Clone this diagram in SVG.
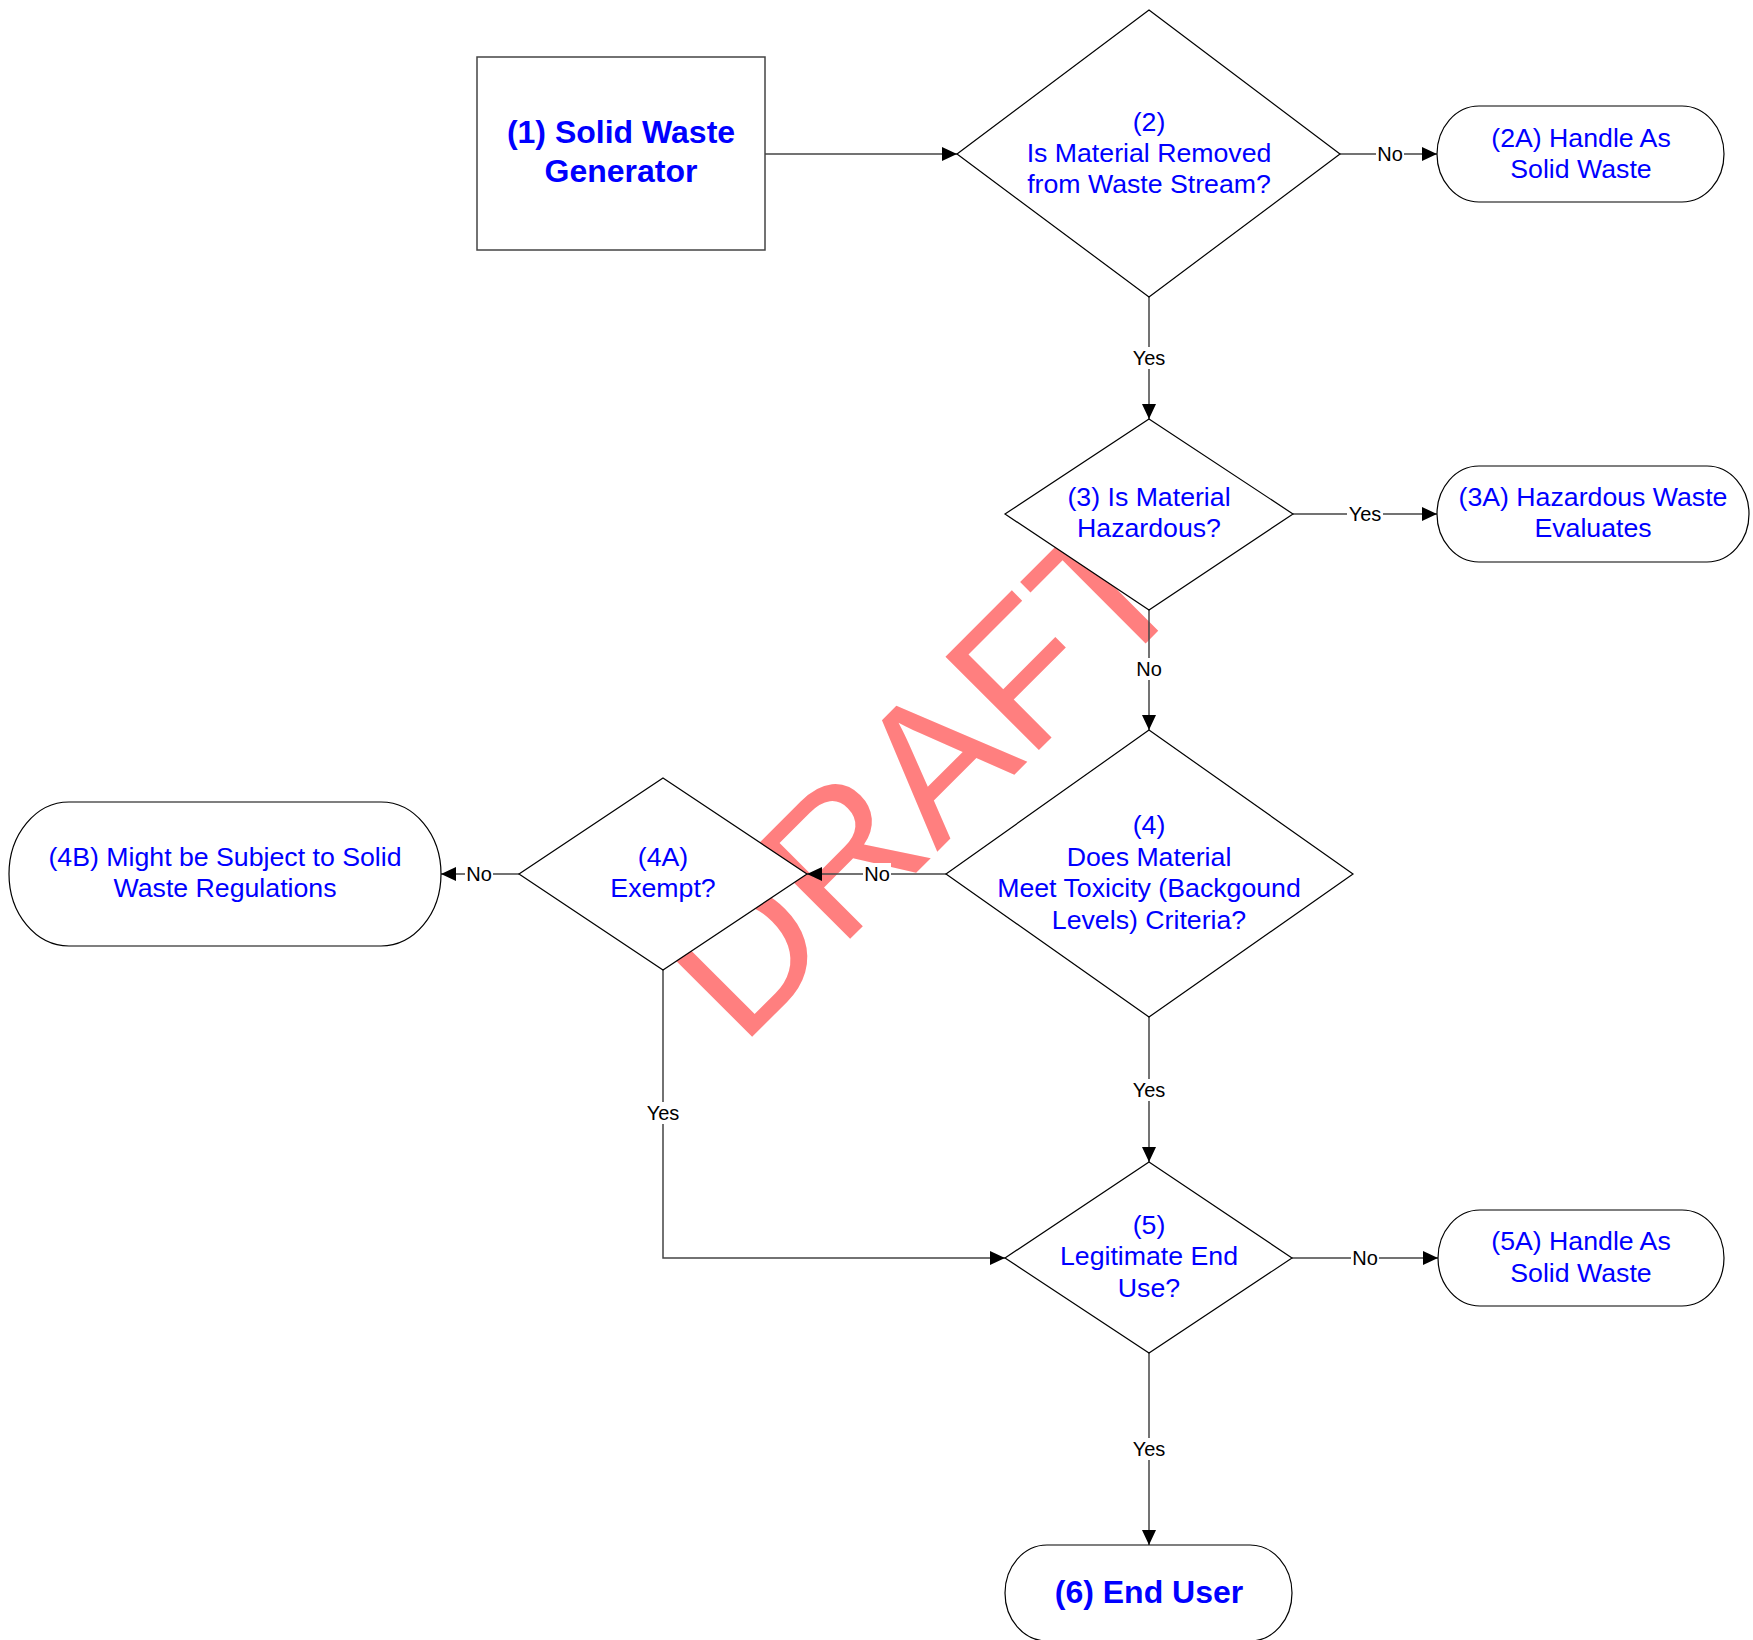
<svg xmlns="http://www.w3.org/2000/svg" width="1753" height="1640" viewBox="0 0 1753 1640">
<defs>
<marker id="arr" markerUnits="userSpaceOnUse" markerWidth="15" markerHeight="14" refX="15" refY="7" orient="auto">
<path d="M0,0 L15,7 L0,14 z" fill="#000"/>
</marker>
<style>
.shape{fill:#fff;stroke:#000;stroke-width:1.2}
.box{fill:#fff;stroke:#444;stroke-width:1.5}
.t{font-family:"Liberation Sans",Arial,sans-serif;font-size:26.7px;fill:#0000ff;text-anchor:middle}
.tb{font-family:"Liberation Sans",Arial,sans-serif;font-size:32px;font-weight:bold;fill:#0000ff;text-anchor:middle}
.c{fill:none;stroke:#444;stroke-width:1.5}
.lb{fill:#fff}
.l{font-family:"Liberation Sans",Arial,sans-serif;font-size:20px;fill:#000;text-anchor:middle}
.wm{font-family:"Liberation Sans",Arial,sans-serif;font-size:192px;fill:#ff7f7f}
</style>
</defs>
<rect width="1753" height="1640" fill="#fff"/>
<g id="watermark">
<text class="wm" transform="translate(741,1048) rotate(-45)">DRAFT</text>
</g>
<g id="connectors">
<line class="c" x1="765" y1="154" x2="957" y2="154" marker-end="url(#arr)"/>
<line class="c" x1="1340" y1="154" x2="1437" y2="154" marker-end="url(#arr)"/>
<line class="c" x1="1149" y1="297" x2="1149" y2="419" marker-end="url(#arr)"/>
<line class="c" x1="1293" y1="514" x2="1437" y2="514" marker-end="url(#arr)"/>
<line class="c" x1="1149" y1="610" x2="1149" y2="730" marker-end="url(#arr)"/>
<line class="c" x1="946" y1="874" x2="807" y2="874" marker-end="url(#arr)"/>
<line class="c" x1="519" y1="874" x2="441" y2="874" marker-end="url(#arr)"/>
<polyline class="c" points="663,970 663,1258 1005,1258" marker-end="url(#arr)"/>
<line class="c" x1="1149" y1="1017" x2="1149" y2="1162" marker-end="url(#arr)"/>
<line class="c" x1="1292" y1="1258" x2="1438" y2="1258" marker-end="url(#arr)"/>
<line class="c" x1="1149" y1="1353" x2="1149" y2="1545" marker-end="url(#arr)"/>
<rect class="lb" x="1376" y="143" width="28" height="22"/><text class="l" x="1390" y="161">No</text>
<rect class="lb" x="1131" y="347" width="36" height="22"/><text class="l" x="1149" y="365">Yes</text>
<rect class="lb" x="1347" y="503" width="36" height="22"/><text class="l" x="1365" y="521">Yes</text>
<rect class="lb" x="1135" y="658" width="28" height="22"/><text class="l" x="1149" y="676">No</text>
<rect class="lb" x="863" y="863" width="28" height="22"/><text class="l" x="877" y="881">No</text>
<rect class="lb" x="465" y="863" width="28" height="22"/><text class="l" x="479" y="881">No</text>
<rect class="lb" x="645" y="1102" width="36" height="22"/><text class="l" x="663" y="1120">Yes</text>
<rect class="lb" x="1131" y="1079" width="36" height="22"/><text class="l" x="1149" y="1097">Yes</text>
<rect class="lb" x="1351" y="1247" width="28" height="22"/><text class="l" x="1365" y="1265">No</text>
<rect class="lb" x="1131" y="1438" width="36" height="22"/><text class="l" x="1149" y="1456">Yes</text>
</g>
<g id="n1">
<rect class="box" x="477" y="57" width="288" height="193"/>
<text class="tb" x="621" y="143">(1) Solid Waste</text>
<text class="tb" x="621" y="182">Generator</text>
</g>
<g id="n2">
<polygon class="shape" points="1149,10 1340,154 1149,297 957,154"/>
<text class="t" x="1149" y="131">(2)</text>
<text class="t" x="1149" y="162">Is Material Removed</text>
<text class="t" x="1149" y="193">from Waste Stream?</text>
</g>
<g id="n2a">
<rect class="shape" x="1437" y="106" width="287" height="96" rx="42" ry="48"/>
<text class="t" x="1581" y="147">(2A) Handle As</text>
<text class="t" x="1581" y="178">Solid Waste</text>
</g>
<g id="n3">
<polygon class="shape" points="1149,419 1293,514 1149,610 1005,514"/>
<text class="t" x="1149" y="506">(3) Is Material</text>
<text class="t" x="1149" y="537">Hazardous?</text>
</g>
<g id="n3a">
<rect class="shape" x="1437" y="466" width="312" height="96" rx="42" ry="48"/>
<text class="t" x="1593" y="506">(3A) Hazardous Waste</text>
<text class="t" x="1593" y="537">Evaluates</text>
</g>
<g id="n4">
<polygon class="shape" points="1149,730 1353,874 1149,1017 946,874"/>
<text class="t" x="1149" y="834">(4)</text>
<text class="t" x="1149" y="866">Does Material</text>
<text class="t" x="1149" y="897">Meet Toxicity (Backgound</text>
<text class="t" x="1149" y="929">Levels) Criteria?</text>
</g>
<g id="n4a">
<polygon class="shape" points="663,778 807,874 663,970 519,874"/>
<text class="t" x="663" y="866">(4A)</text>
<text class="t" x="663" y="897">Exempt?</text>
</g>
<g id="n4b">
<rect class="shape" x="9" y="802" width="432" height="144" rx="60" ry="72"/>
<text class="t" x="225" y="866">(4B) Might be Subject to Solid</text>
<text class="t" x="225" y="897">Waste Regulations</text>
</g>
<g id="n5">
<polygon class="shape" points="1149,1162 1292,1258 1149,1353 1005,1258"/>
<text class="t" x="1149" y="1234">(5)</text>
<text class="t" x="1149" y="1265">Legitimate End</text>
<text class="t" x="1149" y="1297">Use?</text>
</g>
<g id="n5a">
<rect class="shape" x="1438" y="1210" width="286" height="96" rx="42" ry="48"/>
<text class="t" x="1581" y="1250">(5A) Handle As</text>
<text class="t" x="1581" y="1282">Solid Waste</text>
</g>
<g id="n6">
<rect class="shape" x="1005" y="1545" width="287" height="96" rx="42" ry="48"/>
<text class="tb" x="1149" y="1603">(6) End User</text>
</g>
</svg>
